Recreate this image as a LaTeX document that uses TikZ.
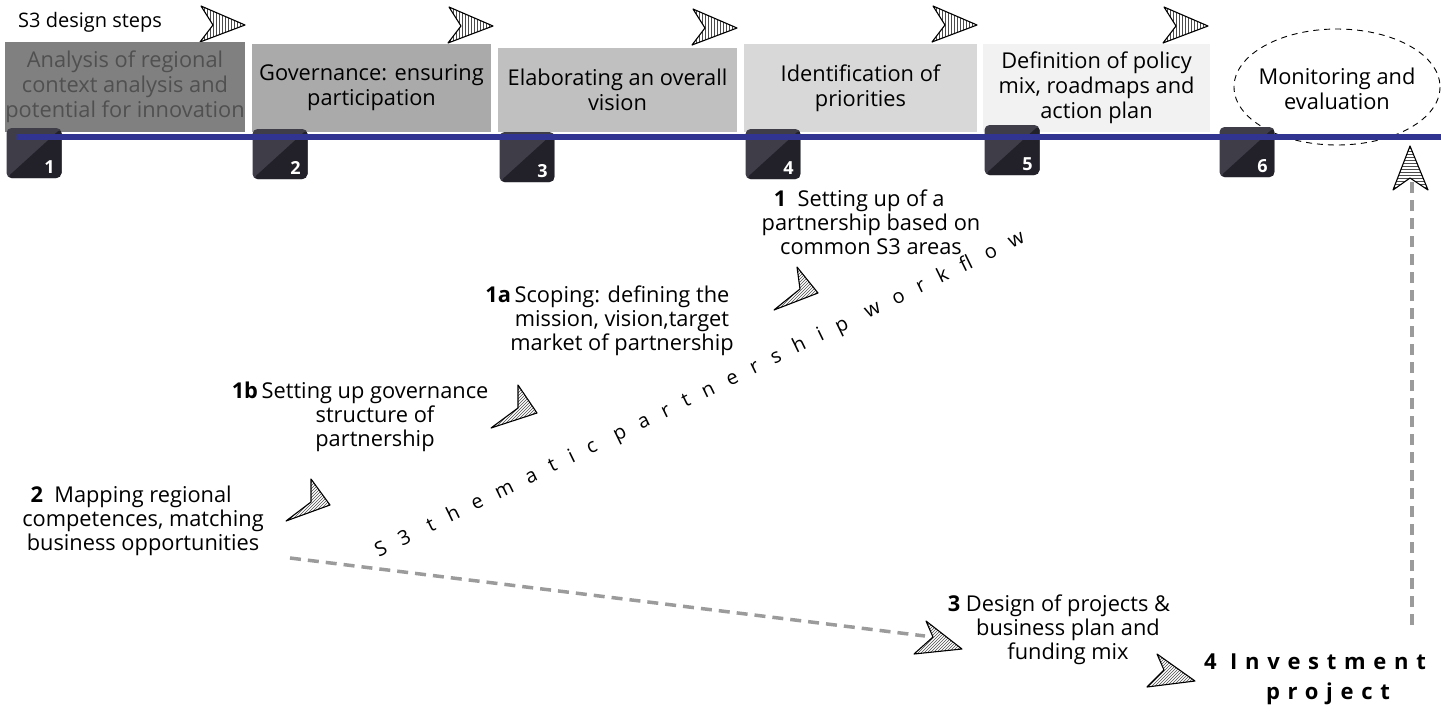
\documentclass[tikz,border=0pt]{standalone}
\usepackage{fontspec}
\setmainfont{Open Sans}
\usetikzlibrary{patterns,calc}
\definecolor{navyline}{RGB}{50,52,145}
\definecolor{boxA}{RGB}{128,128,128}
\definecolor{boxB}{RGB}{170,170,170}
\definecolor{boxC}{RGB}{192,192,192}
\definecolor{boxD}{RGB}{216,216,216}
\definecolor{boxE}{RGB}{242,242,242}
\definecolor{badgelight}{RGB}{62,61,72}
\definecolor{badgedark}{RGB}{34,33,42}
\definecolor{dashgray}{RGB}{155,155,155}
\definecolor{fadedtext}{RGB}{80,80,80}
\begin{document}
\begin{tikzpicture}[x=1pt,y=-1pt,
  stepbox/.style={rectangle, inner sep=0pt, align=center,
    font=\fontsize{21.8}{25}\selectfont},
  badge/.style={rectangle, rounded corners=5pt, minimum width=55pt, minimum height=50pt,
    fill=badgelight, inner sep=0pt,
    path picture={
      \fill[badgedark] (path picture bounding box.south west) -- (path picture bounding box.north east) -- (path picture bounding box.south east) -- cycle;
      \node[text=white, font=\fontsize{18}{18}\selectfont\bfseries] at ([xshift=-12pt,yshift=11pt]path picture bounding box.south east) {#1};
    }},
  lowtext/.style={align=center, inner sep=0pt, font=\fontsize{21.8}{24}\selectfont},
  sketch/.style={draw=black, line width=1.1pt, line join=round, pattern=north east lines, pattern color=black!70},
  sketchv/.style={draw=black, line width=1.1pt, line join=round, pattern=vertical lines, pattern color=black!70},
  dashconn/.style={draw=dashgray, line width=3.5pt, dash pattern=on 11pt off 7pt},
]
\useasboundingbox (0,0) rectangle (1441,713);

% title
\node[font=\fontsize{20}{22}\selectfont, anchor=west, inner sep=0pt] (title) at (18,22) {S3 design steps};

% top sketch arrows
\path[sketchv] (201,6) -- (245,25) -- (200,42) -- (213,25) -- cycle;
\path[sketchv] (449,7) -- (493,26) -- (448,43) -- (461,26) -- cycle;
\path[sketchv] (693,9) -- (737,28) -- (692,45) -- (705,28) -- cycle;
\path[sketchv] (933,6) -- (977,25) -- (932,42) -- (945,25) -- cycle;
\path[sketchv] (1164,7) -- (1208,26) -- (1163,43) -- (1176,26) -- cycle;

% step boxes
\node[stepbox, fill=boxA, text=fadedtext, minimum width=240pt, minimum height=90pt] (s1) at (125,87) {Analysis of regional\\context analysis and\\potential for innovation};
\node[stepbox, fill=boxB, minimum width=239pt, minimum height=88pt] (s2) at (371.5,88) {Governance: ensuring\\participation};
\node[stepbox, fill=boxC, minimum width=239pt, minimum height=84pt] (s3) at (617.5,90) {Elaborating an overall\\vision};
\node[stepbox, fill=boxD, minimum width=233pt, minimum height=88pt] (s4) at (860.5,88) {Identification of\\priorities};
\node[stepbox, fill=boxE, minimum width=227pt, minimum height=88pt] (s5) at (1096.5,88) {Definition of policy\\mix, roadmaps and\\action plan};
\draw[dashed, line width=0.9pt, dash pattern=on 6pt off 5pt] (1337,87) ellipse [x radius=103, y radius=58];
\node[stepbox] (s6) at (1337,89) {Monitoring and\\evaluation};

% badges
\node[badge=1] (b1) at (34,153) {};
\node[badge=2] (b2) at (280,154) {};
\node[badge=3] (b3) at (527,157) {};
\node[badge=4] (b4) at (773,154) {};
\node[badge=5] (b5) at (1012,150) {};
\node[badge=6] (b6) at (1247,152) {};

% timeline
\coordinate (lineA) at (17,137);
\coordinate (lineB) at (1441,137);
\draw[navyline, line width=6pt] (lineA) -- (lineB);

% workflow texts
\node[lowtext] (t1) at (871,222) {\llap{\textbf{1}\ \ }Setting up of a\\partnership based on\\common S3 areas};
\node[lowtext] (t1a) at (622,321) {\llap{\textbf{1a}\,}Scoping: defining the\\mission, vision,target\\market of partnership};
\node[lowtext] (t1b) at (375,417) {\llap{\textbf{1b}\,}Setting up governance\\structure of\\partnership};
\node[lowtext] (t2) at (143,521) {\llap{\textbf{2}\ \ }Mapping regional\\competences, matching\\business opportunities};
\node[lowtext] (t3) at (1068,630) {\llap{\textbf{3}\ }Design of projects \&\\business plan and\\funding mix};
\node[align=center, inner sep=0pt, font=\fontsize{22}{30}\selectfont\bfseries\addfontfeature{LetterSpace=35}] (t4) at (1328,679) {\llap{4\ }Investment\\project};

% workflow sketch arrows
\path[sketch] (797,267) -- (818,293) -- (774,310) -- (800,289) -- cycle;
\path[sketch] (518,385) -- (537,413) -- (491,428) -- (518,408) -- cycle;
\path[sketch] (311,479) -- (330,505) -- (286,521) -- (311,502) -- cycle;
\path[sketch] (926,621) -- (962,649) -- (914,654) -- (933,637) -- cycle;
\path[sketch] (1157,654) -- (1195,681) -- (1147,687) -- (1164,670) -- cycle;

% diagonal label
\node[rotate=26, inner sep=0pt, font=\fontsize{20}{20}\selectfont\addfontfeature{LetterSpace=75}] (wf) at (700,395) {S3 thematic partnership workflow};

% dashed connectors
\coordinate (d1) at (290,558);
\coordinate (d2) at (925,636);
\draw[dashconn] (d1) -- (d2);
\coordinate (v1) at (1412,625);
\coordinate (v2) at (1412,182);
\draw[dashconn] (v1) -- (v2);
\path[sketch, pattern=horizontal lines] (1410,146) -- (1428,190) -- (1410,178) -- (1393,190) -- cycle;
\end{tikzpicture}
\end{document}
